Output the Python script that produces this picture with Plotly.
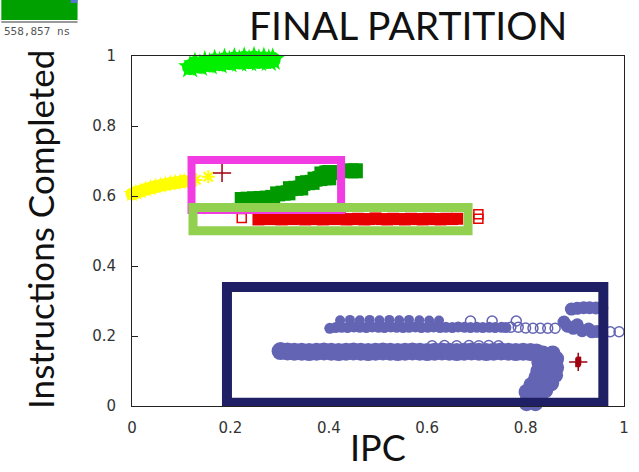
import plotly.graph_objects as go

# ---- partition scatter data (IPC vs. instructions completed) ----
lime_x = [0.118, 0.128, 0.138, 0.148, 0.158, 0.168, 0.178, 0.188, 0.198, 0.208,
          0.218, 0.228, 0.238, 0.248, 0.258, 0.268, 0.278, 0.286]
lime_y = [0.968, 0.977, 0.972, 0.981, 0.976, 0.985, 0.979, 0.988, 0.982, 0.990,
          0.984, 0.992, 0.985, 0.993, 0.986, 0.991, 0.986, 0.989]

yellow_x = [0.000, 0.008, 0.018, 0.028, 0.038, 0.048, 0.058, 0.068, 0.078, 0.088,
            0.098, 0.106]
yellow_y = [0.606, 0.610, 0.614, 0.619, 0.623, 0.627, 0.630, 0.633, 0.636, 0.638,
            0.640, 0.642]
yellow_star_x = [0.130, 0.155]
yellow_star_y = [0.646, 0.655]

darkgreen_x = [0.224, 0.236, 0.249, 0.262, 0.275, 0.286, 0.296, 0.307, 0.317,
               0.322, 0.333, 0.343, 0.347, 0.357, 0.366, 0.372, 0.382, 0.392,
               0.400, 0.386, 0.396, 0.402, 0.445, 0.454]
darkgreen_y = [0.590, 0.591, 0.592, 0.593, 0.594, 0.596, 0.606, 0.608, 0.609,
               0.621, 0.622, 0.623, 0.636, 0.638, 0.639, 0.648, 0.650, 0.652,
               0.652, 0.663, 0.666, 0.667, 0.672, 0.672]

red_x = [0.257, 0.268, 0.281, 0.292, 0.304, 0.316, 0.327, 0.340, 0.352, 0.363,
         0.375, 0.388, 0.399, 0.412, 0.423, 0.436, 0.447, 0.459, 0.472, 0.483,
         0.495, 0.508, 0.519, 0.531, 0.544, 0.555, 0.567, 0.580, 0.591, 0.603,
         0.616, 0.627, 0.639, 0.651, 0.661]
red_y = [0.533, 0.535, 0.534, 0.536, 0.533, 0.535, 0.534, 0.536, 0.533, 0.535,
         0.534, 0.533, 0.535, 0.534, 0.536, 0.533, 0.534, 0.535, 0.533, 0.534,
         0.536, 0.534, 0.533, 0.535, 0.534, 0.533, 0.535, 0.534, 0.533, 0.535,
         0.534, 0.533, 0.535, 0.534, 0.535]
red_open_x = [0.223, 0.704, 0.704]
red_open_y = [0.537, 0.548, 0.535]

plus_x = [0.183, 0.907]
plus_y = [0.666, 0.126]
plus_bar_x = [0.906, 0.907, 0.908, 0.907, 0.906, 0.908]
plus_bar_y = [0.118, 0.121, 0.124, 0.128, 0.131, 0.134]

# blue cluster: upper band, its top row, lower band, the hook and the right-hand group
blue_upper_x = [0.402, 0.414, 0.426, 0.438, 0.451, 0.463, 0.476, 0.488, 0.501, 0.513,
                0.526, 0.538, 0.551, 0.563, 0.576, 0.588, 0.601, 0.613, 0.626, 0.638,
                0.651, 0.663, 0.676, 0.688, 0.701, 0.713, 0.726, 0.738, 0.751, 0.760]
blue_upper_y = [0.222, 0.224, 0.225, 0.224, 0.226, 0.225, 0.224, 0.226, 0.225, 0.224,
                0.226, 0.225, 0.224, 0.225, 0.226, 0.224, 0.225, 0.226, 0.224, 0.225,
                0.224, 0.226, 0.225, 0.224, 0.225, 0.224, 0.225, 0.224, 0.225, 0.224]
blue_toprow_x = [0.423, 0.443, 0.463, 0.483, 0.503, 0.523, 0.543, 0.563, 0.584, 0.604,
                 0.624]
blue_toprow_y = [0.245, 0.246, 0.245, 0.246, 0.245, 0.246, 0.245, 0.246, 0.245, 0.244,
                 0.244]
blue_lower_x = [0.302, 0.316, 0.330, 0.345, 0.360, 0.375, 0.390, 0.405, 0.420, 0.435,
                0.450, 0.465, 0.480, 0.495, 0.510, 0.525, 0.540, 0.555, 0.570, 0.585,
                0.600, 0.615, 0.630, 0.645, 0.660, 0.675, 0.690, 0.705, 0.720, 0.735,
                0.750, 0.765, 0.780, 0.795, 0.810, 0.822]
blue_lower_y = [0.157, 0.156, 0.155, 0.155, 0.154, 0.155, 0.156, 0.155, 0.154, 0.155,
                0.156, 0.155, 0.154, 0.155, 0.156, 0.155, 0.154, 0.155, 0.156, 0.155,
                0.154, 0.155, 0.156, 0.155, 0.154, 0.155, 0.156, 0.155, 0.154, 0.155,
                0.156, 0.155, 0.154, 0.155, 0.154, 0.153]
blue_hook_x = [0.835, 0.855, 0.862, 0.845, 0.828, 0.862, 0.845, 0.826, 0.860, 0.842,
               0.822, 0.852, 0.832, 0.812, 0.840, 0.820, 0.802, 0.825, 0.805, 0.820,
               0.802, 0.815, 0.800]
blue_hook_y = [0.150, 0.150, 0.135, 0.128, 0.125, 0.110, 0.105, 0.100, 0.088, 0.085,
               0.082, 0.065, 0.062, 0.060, 0.045, 0.042, 0.040, 0.025, 0.022, 0.008,
               0.008, -0.008, -0.008]
blue_right_x = [0.893, 0.905, 0.918, 0.930, 0.943, 0.955, 0.878, 0.885, 0.897, 0.905,
                0.915, 0.928, 0.935, 0.945]
blue_right_y = [0.277, 0.279, 0.281, 0.281, 0.280, 0.281, 0.240, 0.228, 0.222, 0.232,
                0.215, 0.220, 0.212, 0.213]
blue_open_x = [0.688, 0.732, 0.781, 0.770, 0.785, 0.800, 0.815, 0.830, 0.845, 0.860,
               0.610, 0.635, 0.660, 0.685, 0.705, 0.725, 0.745, 0.972, 0.990, 1.002]
blue_open_y = [0.243, 0.243, 0.243, 0.225, 0.225, 0.223, 0.222, 0.222, 0.222, 0.222,
               0.172, 0.173, 0.172, 0.173, 0.172, 0.173, 0.172, 0.212, 0.212, 0.212]

# partition boxes: [x0, x1, y0, y1]
box_magenta = [0.121, 0.425, 0.560, 0.703]
box_lightgreen = [0.124, 0.683, 0.501, 0.567]
box_navy = [0.193, 0.958, 0.009, 0.340]

tick_vals = [0, 0.2, 0.4, 0.6, 0.8, 1]
tick_text = ["0", "0.2", "0.4", "0.6", "0.8", "1"]

BLUE = "#6464b4"
LIME = "#00f000"
YELLOW = "#ffff00"
DARKRED = "#a00010"

fig = go.Figure()


def add_points(x, y, symbol, size, color, line_color=None, line_width=0):
    fig.add_trace(go.Scatter(
        x=x, y=y, mode="markers", cliponaxis=False, hoverinfo="skip",
        marker=dict(symbol=symbol, size=size, color=color,
                    line=dict(color=line_color or color, width=line_width)),
    ))


add_points(lime_x, lime_y, "star", 18, LIME)
add_points(lime_x, lime_y, "circle", 16, LIME)
add_points(yellow_x, yellow_y, "circle", 13, YELLOW)
add_points(yellow_x, yellow_y, "star", 13, YELLOW)
add_points(yellow_star_x, yellow_star_y, "asterisk-open", 11, YELLOW, line_width=2)
add_points(darkgreen_x, darkgreen_y, "square", 15, "#009a00")
add_points(red_x, red_y, "square", 12, "#e60000")
add_points(red_open_x, red_open_y, "square-open", 9, "#e60000", line_width=1.5)
add_points(blue_lower_x, blue_lower_y, "circle", 18, BLUE)
add_points(blue_upper_x, blue_upper_y, "circle", 11, BLUE)
add_points(blue_toprow_x, blue_toprow_y, "circle", 10, BLUE)
add_points(blue_hook_x, blue_hook_y, "circle", 16, BLUE)
add_points(blue_right_x, blue_right_y, "circle", 13, BLUE)
add_points(blue_open_x, blue_open_y, "circle-open", 10, BLUE, line_width=1.5)
add_points(plus_x, plus_y, "cross-thin", 13, DARKRED, line_width=1.5)
add_points(plus_bar_x, plus_bar_y, "square", 5, DARKRED)


def add_box(b, color, width):
    fig.add_shape(type="rect", xref="x", yref="y", x0=b[0], x1=b[1], y0=b[2], y1=b[3],
                  line=dict(color=color, width=width), fillcolor="rgba(0,0,0,0)",
                  layer="above")


add_box(box_magenta, "#f03ce2", 8)
add_box(box_lightgreen, "#92d050", 9)
add_box(box_navy, "#1f1f66", 10)

# pixel -> paper helpers for the page decorations
L, R, T, B = 132, 10, 56, 66
W, H = 639, 472
PW, PH = W - L - R, H - T - B


def px(xp):
    return (xp - L) / PW


def py(yp):
    return (H - B - yp) / PH


# fragment of a timeline strip in the top-left corner
fig.add_shape(type="rect", xref="paper", yref="paper", x0=px(0), x1=px(77), y0=py(20), y1=py(0),
              line=dict(width=0), fillcolor="#00a000", layer="above")
fig.add_shape(type="rect", xref="paper", yref="paper", x0=px(70), x1=px(77), y0=py(3), y1=py(0),
              line=dict(width=0), fillcolor="#5577cc", layer="above")
fig.add_shape(type="line", xref="paper", yref="paper", x0=px(0), x1=px(77), y0=py(22), y1=py(22),
              line=dict(color="#777777", width=1.5), layer="above")
fig.add_annotation(text="558,857 ns", xref="paper", yref="paper", x=px(1), y=py(31),
                   xanchor="left", yanchor="middle", showarrow=False,
                   font=dict(family="DejaVu Sans Mono", size=11, color="#555555"))

fig.add_annotation(text="FINAL PARTITION", xref="paper", yref="paper", x=px(411), y=py(0.2),
                   xanchor="center", yanchor="top", showarrow=False,
                   font=dict(family="Lato", size=39, color="#111111"))
fig.add_annotation(text="Instructions Completed", xref="paper", yref="paper", x=px(39), y=py(229),
                   xanchor="center", yanchor="middle", showarrow=False, textangle=-90,
                   font=dict(family="Lato", size=35, color="#111111"))
fig.add_annotation(text="IPC", xref="paper", yref="paper", x=px(380), y=py(471.5),
                   xanchor="center", yanchor="bottom", showarrow=False,
                   font=dict(family="Lato", size=36, color="#111111"))

axis_common = dict(range=[0, 1], tickvals=tick_vals, ticktext=tick_text, ticks="inside",
                   ticklen=6, tickcolor="#222222", showline=True, linecolor="#222222",
                   linewidth=1, mirror=True, showgrid=False, zeroline=False,
                   tickfont=dict(family="DejaVu Sans", size=15, color="#333333"))

fig.update_layout(
    width=W, height=H,
    margin=dict(l=L, r=R, t=T, b=B),
    paper_bgcolor="white", plot_bgcolor="white",
    showlegend=False,
    xaxis=dict(**axis_common, ticklabelstandoff=8),
    yaxis=dict(**axis_common, ticklabelstandoff=12),
)

fig.write_html("out.html")
